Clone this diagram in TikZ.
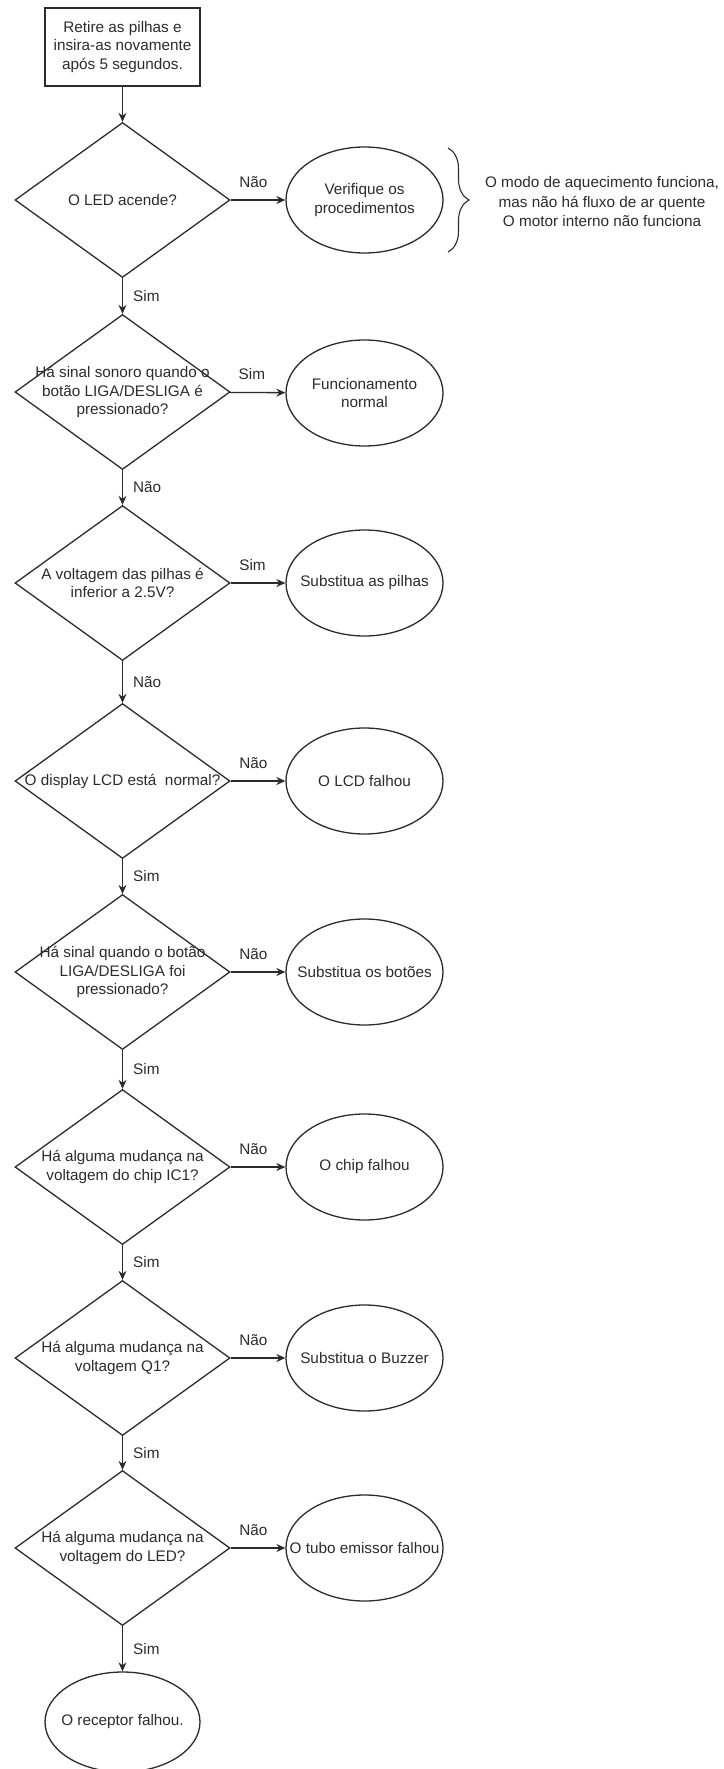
\documentclass[tikz,border=0pt]{standalone}
\usepackage{fontspec}
\setmainfont{Liberation Sans}
\usepackage{xcolor}
\usetikzlibrary{shapes.geometric, arrows.meta, decorations.pathreplacing}
\definecolor{traco}{HTML}{2B2B2B}

\begin{document}
\begin{tikzpicture}[x=1pt, y=-1pt, line width=1.3pt, color=traco,
        txt/.style={font=\fontsize{15.3}{18.5}\selectfont, align=center, inner sep=0pt},
        passo/.style={draw, rectangle, minimum width=155pt, minimum height=78pt, inner sep=0pt, txt},
        pergunta/.style={draw, diamond, minimum width=215pt, minimum height=155pt, inner sep=0pt},
        desfecho/.style={draw, ellipse, minimum width=157pt, minimum height=106pt, inner sep=0pt},
        seta/.style={-{Stealth[length=9pt, width=8pt]}},
        lado/.style={pos=0, anchor=south west, font=\fontsize{15.3}{18.5}\selectfont, inner sep=2pt, xshift=6pt, yshift=10pt},
        baixo/.style={pos=0.5, anchor=west, font=\fontsize{15.3}{18.5}\selectfont, inner sep=2pt, xshift=8pt}]
        \useasboundingbox (0,0) rectangle (723,1769);

        \node[passo] at (122.5, 47) (inicio) {Retire as pilhas e\\insira-as novamente\\após 5 segundos.};

        \node[pergunta, label={[txt]center:{O LED acende?}}] at (122.5, 200) (q1) {};
        \node[pergunta, label={[txt]center:{Há sinal sonoro quando o\\botão LIGA/DESLIGA é\\pressionado?}}] at (122.5, 392) (q2) {};
        \node[pergunta, label={[txt]center:{A voltagem das pilhas é\\inferior a 2.5V?}}] at (122.5, 583) (q3) {};
        \node[pergunta, label={[txt]center:{O display LCD está\ \ normal?}}] at (122.5, 781) (q4) {};
        \node[pergunta, label={[txt]center:{Há sinal quando o botão\\LIGA/DESLIGA foi\\pressionado?}}] at (122.5, 972) (q5) {};
        \node[pergunta, label={[txt]center:{Há alguma mudança na\\voltagem do chip IC1?}}] at (122.5, 1167) (q6) {};
        \node[pergunta, label={[txt]center:{Há alguma mudança na\\voltagem Q1?}}] at (122.5, 1358) (q7) {};
        \node[pergunta, label={[txt]center:{Há alguma mudança na\\voltagem do LED?}}] at (122.5, 1548) (q8) {};

        \node[desfecho, label={[txt]center:{Verifique os\\procedimentos}}] at (364.5, 200) (r1) {};
        \node[desfecho, label={[txt]center:{Funcionamento\\normal}}] at (364.5, 393) (r2) {};
        \node[desfecho, label={[txt]center:{Substitua as pilhas}}] at (364.5, 583) (r3) {};
        \node[desfecho, label={[txt]center:{O LCD falhou}}] at (364.5, 781) (r4) {};
        \node[desfecho, label={[txt]center:{Substitua os botões}}] at (364.5, 972) (r5) {};
        \node[desfecho, label={[txt]center:{O chip falhou}}] at (364.5, 1167) (r6) {};
        \node[desfecho, label={[txt]center:{Substitua o Buzzer}}] at (364.5, 1358) (r7) {};
        \node[desfecho, label={[txt]center:{O tubo emissor falhou}}] at (364.5, 1548) (r8) {};
        \node[desfecho, minimum width=155pt, minimum height=100pt, label={[txt]center:{O receptor falhou.}}] at (122.5, 1722) (fim) {};

        \coordinate (bt) at (448, 148);
        \coordinate (bb) at (448, 252);
        \draw[decorate, decoration={brace, amplitude=21pt}, line width=1.1pt] (bt) -- (bb);
        \node[txt, font=\fontsize{15.3}{19.5}\selectfont] at (602, 202) (nota) {O modo de aquecimento funciona,\\mas não há fluxo de ar quente\\O motor interno não funciona};

        \draw[seta] (inicio) -- (q1);
        \draw[seta] (q1) -- node[lado] {Não} (r1);
        \draw[seta] (q1) -- node[baixo] {Sim} (q2);
        \draw[seta] (q2) -- node[lado] {Sim} (r2);
        \draw[seta] (q2) -- node[baixo] {Não} (q3);
        \draw[seta] (q3) -- node[lado] {Sim} (r3);
        \draw[seta] (q3) -- node[baixo] {Não} (q4);
        \draw[seta] (q4) -- node[lado] {Não} (r4);
        \draw[seta] (q4) -- node[baixo] {Sim} (q5);
        \draw[seta] (q5) -- node[lado] {Não} (r5);
        \draw[seta] (q5) -- node[baixo] {Sim} (q6);
        \draw[seta] (q6) -- node[lado] {Não} (r6);
        \draw[seta] (q6) -- node[baixo] {Sim} (q7);
        \draw[seta] (q7) -- node[lado] {Não} (r7);
        \draw[seta] (q7) -- node[baixo] {Sim} (q8);
        \draw[seta] (q8) -- node[lado] {Não} (r8);
        \draw[seta] (q8) -- node[baixo] {Sim} (fim);
    \end{tikzpicture}
\end{document}
